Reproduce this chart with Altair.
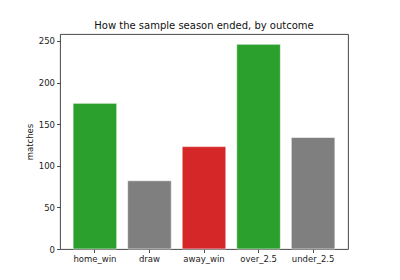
import altair as alt
import pandas as pd

categories = ["home_win", "draw", "away_win", "over_2.5", "under_2.5"]
matches = [175, 82, 123, 246, 134]
colors = ["#2ca02c", "#7f7f7f", "#d62728", "#2ca02c", "#7f7f7f"]

df = pd.DataFrame({"outcome": categories, "matches": matches, "color": colors})

font = "DejaVu Sans"

chart = (
    alt.Chart(df)
    .mark_bar(stroke="white", strokeWidth=0.6)
    .encode(
        x=alt.X(
            "outcome:N",
            sort=categories,
            scale=alt.Scale(paddingInner=0.2, paddingOuter=0.24),
            axis=alt.Axis(
                title=None, labelAngle=0, tickSize=3.5, labelPadding=2,
                labelFont=font, labelFontSize=8.5, labelColor="#222",
                domain=False, tickColor="#222", tickWidth=0.8,
            ),
        ),
        y=alt.Y(
            "matches:Q",
            scale=alt.Scale(domain=[0, 258.3], nice=False, zero=True),
            axis=alt.Axis(
                title="matches", values=[0, 50, 100, 150, 200, 250],
                tickSize=3.5, labelPadding=2, titlePadding=4,
                labelFont=font, labelFontSize=8.5, labelColor="#222",
                titleFont=font, titleFontSize=8.5, titleFontWeight="normal", titleColor="#222",
                grid=False, domain=False, tickColor="#222", tickWidth=0.8,
            ),
        ),
        color=alt.Color("color:N", scale=None, legend=None),
    )
    .properties(
        width=288,
        height=215,
        background="white",
        title=alt.TitleParams(
            "How the sample season ended, by outcome",
            font=font, fontSize=10, fontWeight="normal", color="#111", offset=3,
        ),
        autosize=alt.AutoSizeParams(type="none"),
        padding={"left": 60, "top": 34, "right": 52, "bottom": 31},
    )
    .configure_view(stroke="#333", strokeWidth=0.9)
)

chart.save("out.html", embed_options={"renderer": "svg", "actions": False})
